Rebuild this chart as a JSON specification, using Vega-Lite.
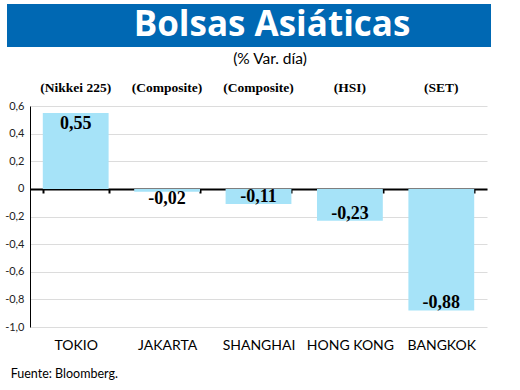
{
  "$schema": "https://vega.github.io/schema/vega-lite/v6.json",
  "padding": {"left": 4, "top": 4, "right": 5, "bottom": 5},
  "background": "white",
  "config": {
    "locale": {"number": {"decimal": ",", "thousands": ".", "grouping": [3], "currency": ["", ""], "minus": "-"}},
    "view": {"stroke": null}
  },
  "title": {"text": "Fuente: Bloomberg.", "orient": "bottom", "anchor": "start", "font": "Lato", "fontSize": 12.5, "fontWeight": "normal", "color": "#000", "offset": 16, "dx": 6},
  "vconcat": [
    {
      "width": 484,
      "height": 43,
      "view": {"fill": "#0068b3", "stroke": null},
      "data": {"values": [{"titulo": "Bolsas Asiáticas"}]},
      "mark": {"type": "text", "font": "Open Sans", "fontWeight": "bold", "fontSize": 35, "color": "white", "dx": 23, "dy": -1, "baseline": "middle", "align": "center"},
      "encoding": {"text": {"field": "titulo"}}
    },
    {
      "width": 484,
      "height": 221,
      "title": {"text": "(% Var. día)", "font": "Lato", "fontSize": 15.5, "fontWeight": "normal", "color": "#000", "frame": "group", "dx": 21, "offset": 14},
      "data": {"values": [
        {"ciudad": "TOKIO", "indice": "(Nikkei 225)", "valor": 0.55},
        {"ciudad": "JAKARTA", "indice": "(Composite)", "valor": -0.02},
        {"ciudad": "SHANGHAI", "indice": "(Composite)", "valor": -0.11},
        {"ciudad": "HONG KONG", "indice": "(HSI)", "valor": -0.23},
        {"ciudad": "BANGKOK", "indice": "(SET)", "valor": -0.88}
      ]},
      "encoding": {
        "x": {
          "field": "ciudad", "type": "nominal", "sort": null,
          "scale": {"range": [23, 480], "paddingInner": 0.28, "paddingOuter": 0.14},
          "axis": {
            "title": null, "orient": "bottom", "offset": -138,
            "domainColor": "#000", "domainWidth": 2,
            "tickBand": "extent", "tickColor": "#000", "tickSize": 4, "tickWidth": 2,
            "labelPadding": 145, "labelFont": "Lato", "labelFontSize": 14, "labelColor": "#000", "labelAngle": 0,
            "grid": false
          }
        },
        "y": {
          "field": "valor", "type": "quantitative",
          "scale": {"domain": [-1, 0.6], "nice": false, "zero": false},
          "axis": {
            "title": null, "offset": -23,
            "values": [-1, -0.8, -0.6, -0.4, -0.2, 0, 0.2, 0.4, 0.6],
            "format": ".1f",
            "labelExpr": "datum.value == 0 ? '0' : datum.label",
            "domainColor": "#000", "domainWidth": 1,
            "ticks": false, "labelPadding": 6,
            "labelFont": "Lato", "labelFontSize": 11, "labelColor": "#222",
            "gridColor": "#dcdcdc", "gridWidth": 1
          }
        }
      },
      "layer": [
        {"mark": {"type": "bar", "color": "#a6e3f8"}},
        {
          "transform": [{"filter": "datum.valor > 0"}],
          "mark": {"type": "text", "baseline": "top", "dy": 2, "font": "Liberation Serif", "fontWeight": "bold", "fontSize": 18, "color": "#000"},
          "encoding": {"text": {"field": "valor", "format": ".2f"}}
        },
        {
          "transform": [{"filter": "datum.valor < -0.05"}],
          "mark": {"type": "text", "baseline": "alphabetic", "dy": -2, "font": "Liberation Serif", "fontWeight": "bold", "fontSize": 18, "color": "#000"},
          "encoding": {"text": {"field": "valor", "format": ".2f"}}
        },
        {
          "transform": [{"filter": "datum.valor >= -0.05 && datum.valor <= 0"}],
          "mark": {"type": "text", "baseline": "alphabetic", "dy": 12, "font": "Liberation Serif", "fontWeight": "bold", "fontSize": 18, "color": "#000"},
          "encoding": {"text": {"field": "valor", "format": ".2f"}}
        },
        {
          "mark": {"type": "text", "baseline": "middle", "dy": -18, "font": "Liberation Serif", "fontWeight": "bold", "fontSize": 13.5, "color": "#000"},
          "encoding": {"y": {"datum": 0.6}, "text": {"field": "indice"}}
        }
      ]
    }
  ],
  "spacing": 4
}
